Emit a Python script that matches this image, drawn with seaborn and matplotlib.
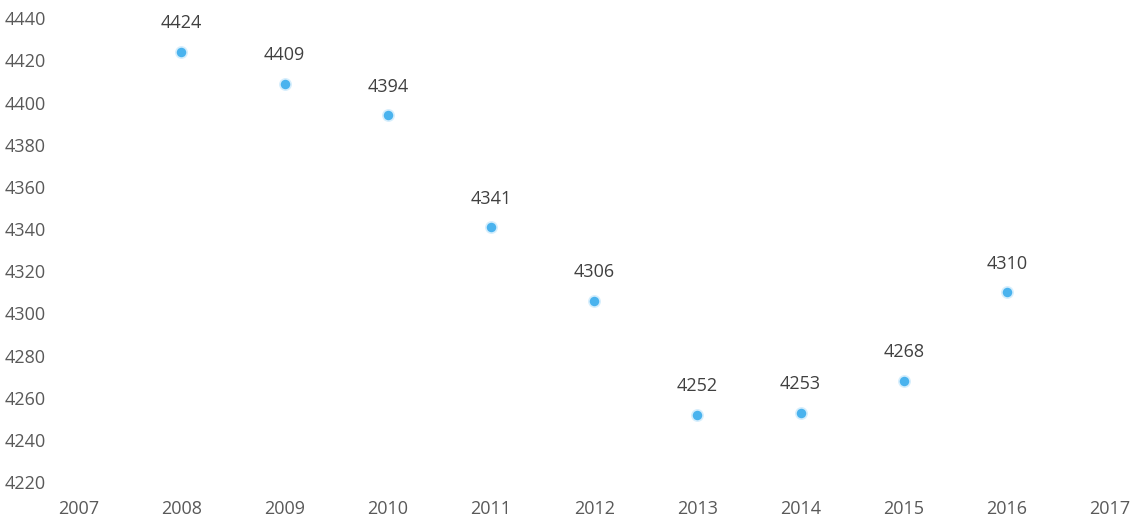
import matplotlib
matplotlib.use('Agg')
import matplotlib.pyplot as plt
import seaborn as sns
import pandas as pd

# data
years = [2008, 2009, 2010, 2011, 2012, 2013, 2014, 2015, 2016]
values = [4424, 4409, 4394, 4341, 4306, 4252, 4253, 4268, 4310]
x_ticks = list(range(2007, 2018))
y_ticks = list(range(4220, 4441, 20))

df = pd.DataFrame({'year': years, 'value': values})

sns.set_style('white')
plt.rcParams['font.family'] = ['Open Sans', 'DejaVu Sans']

fig = plt.figure(figsize=(11.35, 5.19), dpi=100)
ax = fig.add_axes([0.069, 0.071, 0.909, 0.894])

sns.scatterplot(data=df, x='year', y='value', ax=ax, s=65, color='#4ab3ee',
                edgecolor='#d6eefc', linewidth=1.2, zorder=3)

for x, y in zip(years, values):
    ax.annotate(str(y), (x, y), xytext=(0, 14), textcoords='offset points',
                ha='center', va='bottom', fontsize=13, color='#404040')

ax.set_xlim(2007, 2017)
ax.set_ylim(4220, 4440)
ax.set_xticks(x_ticks)
ax.set_yticks(y_ticks)
ax.tick_params(axis='both', length=0, labelsize=13, colors='#595959')
ax.tick_params(axis='x', pad=13)
for lab in ax.get_yticklabels():
    lab.set_horizontalalignment('left')
ax.tick_params(axis='y', pad=53)
ax.set_xlabel('')
ax.set_ylabel('')
sns.despine(ax=ax, left=True, bottom=True, top=True, right=True)

fig.savefig('out.png', dpi=100, facecolor='white')
